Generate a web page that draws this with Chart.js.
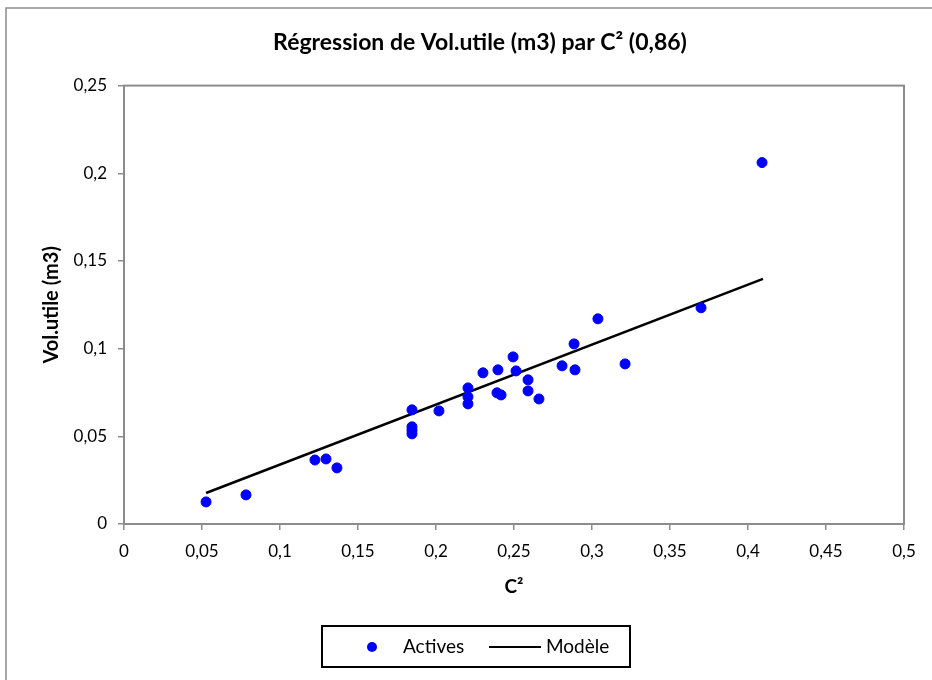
<!DOCTYPE html>
<html>
<head>
<meta charset="utf-8">
<script src="https://cdn.jsdelivr.net/npm/chart.js@4"></script>
<style>
  body { margin: 0; background: #fff; }
  #wrap { width: 932px; height: 680px; }
</style>
</head>
<body>
<div id="wrap"><canvas id="graficoVolume" width="932" height="680"></canvas></div>
<script>
// Données
const c2 = [0.0526, 0.0782, 0.1224, 0.1295, 0.1365, 0.1846, 0.1846, 0.1846, 0.1846,
  0.2019, 0.2205, 0.2205, 0.2205, 0.2301, 0.2397, 0.2391, 0.2417, 0.2494, 0.2513,
  0.2590, 0.2590, 0.2660, 0.2808, 0.2891, 0.2885, 0.3038, 0.3212, 0.3699, 0.4090];
const volUtile = [0.0126, 0.0166, 0.0365, 0.0371, 0.0320, 0.0651, 0.0554, 0.0534, 0.0514,
  0.0645, 0.0776, 0.0725, 0.0685, 0.0862, 0.0879, 0.0748, 0.0736, 0.0953, 0.0873,
  0.0822, 0.0759, 0.0713, 0.0902, 0.0879, 0.1027, 0.1170, 0.0913, 0.1233, 0.2061];
const modeleX = [0.0526, 0.4096];
const modeleY = [0.0177, 0.1398];
const xTicks = [0, 0.05, 0.1, 0.15, 0.2, 0.25, 0.3, 0.35, 0.4, 0.45, 0.5];
const yTicks = [0, 0.05, 0.1, 0.15, 0.2, 0.25];

const police = "Lato, 'Open Sans', sans-serif";
const virgule = v => String(Math.round(v * 1000) / 1000).replace(".", ",");

// Cadre, bordure de la zone de tracé et légende encadrée
const cadres = {
  id: "cadres",
  beforeDraw(chart) {
    const ctx = chart.ctx;
    ctx.save();
    ctx.fillStyle = "#fff";
    ctx.fillRect(0, 0, chart.width, chart.height);
    ctx.strokeStyle = "#8c8c8c";
    ctx.lineWidth = 1.5;
    ctx.strokeRect(6, 8, chart.width + 10, chart.height + 10);
    ctx.restore();
  },
  afterDraw(chart) {
    const ctx = chart.ctx;
    const a = chart.chartArea;
    ctx.save();
    ctx.strokeStyle = "#8c8c8c";
    ctx.lineWidth = 2;
    ctx.strokeRect(a.left, a.top, a.right - a.left, a.bottom - a.top);

    // légende
    ctx.strokeStyle = "#000";
    ctx.lineWidth = 2;
    ctx.strokeRect(322, 626, 308, 41);
    const cy = 647;
    const [pts, mod] = chart.data.datasets;
    ctx.fillStyle = pts.backgroundColor;
    ctx.beginPath();
    ctx.arc(372, cy, 5, 0, Math.PI * 2);
    ctx.fill();
    ctx.font = "19px " + police;
    ctx.textBaseline = "middle";
    ctx.fillStyle = "#000";
    ctx.fillText(pts.label, 403, cy);
    ctx.strokeStyle = mod.borderColor;
    ctx.lineWidth = 2;
    ctx.beginPath();
    ctx.moveTo(489, cy);
    ctx.lineTo(541, cy);
    ctx.stroke();
    ctx.fillText(mod.label, 546, cy);
    ctx.restore();
  }
};

const ctx = document.getElementById("graficoVolume").getContext("2d");

new Chart(ctx, {
  type: "scatter",
  data: {
    datasets: [
      {
        label: "Actives",
        data: c2.map((x, i) => ({ x: x, y: volUtile[i] })),
        backgroundColor: "#0000ff",
        borderColor: "#0000ff",
        pointRadius: 5,
        pointHoverRadius: 5
      },
      {
        type: "line",
        label: "Modèle",
        data: modeleX.map((x, i) => ({ x: x, y: modeleY[i] })),
        borderColor: "#000",
        borderWidth: 2.5,
        pointRadius: 0,
        fill: false
      }
    ]
  },
  options: {
    responsive: false,
    animation: false,
    layout: { padding: { left: 28, right: 0, top: 8, bottom: 76 } },
    plugins: {
      legend: { display: false },
      tooltip: { enabled: false },
      title: {
        display: true,
        text: "Régression de Vol.utile (m3) par C² (0,86)",
        color: "#000",
        font: { family: police, size: 23, weight: "bold" },
        padding: { top: 21, bottom: 29 }
      }
    },
    scales: {
      x: {
        type: "linear",
        min: 0,
        max: 0.5,
        afterBuildTicks: s => { s.ticks = xTicks.map(v => ({ value: v })); },
        afterFit: s => { s.height = 80; },
        grid: { drawOnChartArea: false, tickLength: 6, color: "#8c8c8c", lineWidth: 1.5 },
        border: { color: "#8c8c8c", width: 2 },
        ticks: {
          color: "#000",
          padding: 11,
          maxRotation: 0,
          font: { family: police, size: 17 },
          callback: v => virgule(v)
        },
        title: {
          display: true,
          text: "C²",
          color: "#000",
          font: { family: police, size: 19, weight: "bold" },
          padding: { top: 4, bottom: 6 }
        }
      },
      y: {
        type: "linear",
        min: 0,
        max: 0.25,
        afterBuildTicks: s => { s.ticks = yTicks.map(v => ({ value: v })); },
        afterFit: s => { s.width = 96; },
        grid: { drawOnChartArea: false, tickLength: 6, color: "#8c8c8c", lineWidth: 1.5 },
        border: { color: "#8c8c8c", width: 2 },
        ticks: {
          color: "#000",
          padding: 11,
          font: { family: police, size: 17 },
          callback: v => virgule(v)
        },
        title: {
          display: true,
          text: "Vol.utile (m3)",
          color: "#000",
          font: { family: police, size: 20, weight: "bold" },
          padding: { top: 12, bottom: 0 }
        }
      },
      // marge droite réservée (aucun tracé)
      marge: {
        type: "linear",
        position: "right",
        afterFit: s => { s.width = 28; },
        grid: { display: false },
        border: { display: false },
        ticks: { display: false }
      }
    }
  },
  plugins: [cadres]
});
</script>
</body>
</html>
